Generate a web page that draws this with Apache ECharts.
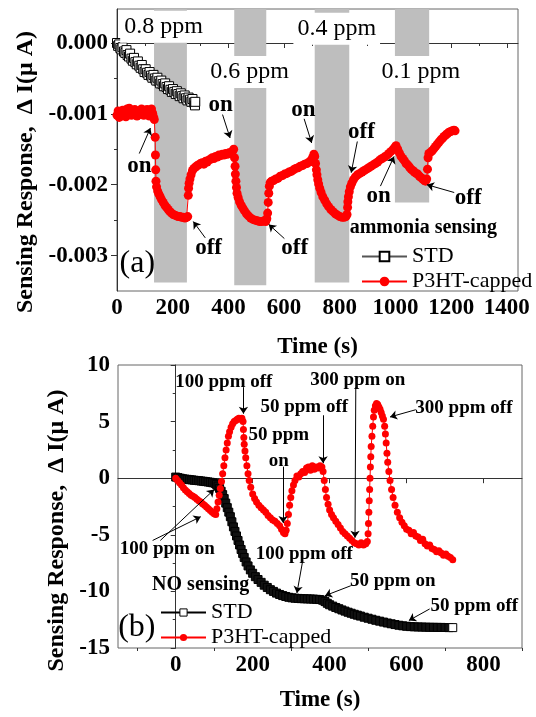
<!DOCTYPE html>
<html>
<head>
<meta charset="utf-8">
<script src="https://cdn.jsdelivr.net/npm/echarts@6/dist/echarts.min.js"></script>
<style>
  html, body { margin: 0; padding: 0; background: #fff; }
  #chart { width: 536px; height: 717px; }
</style>
</head>
<body>
<div id="chart"></div>
<script>
// ---------- panel (a): ammonia sensing ----------
var stdA = [[0,0],[4,-0.00004],[8,-0.00002],[12,-0.00007],[16,-0.00009],[20,-0.00006],[25,-0.00012],[30,-0.00014],
  [34,-0.0001],[38,-0.00017],[43,-0.00019],[47,-0.00015],[52,-0.00022],[57,-0.00025],[61,-0.00021],[66,-0.00027],
  [71,-0.0003],[75,-0.00026],[80,-0.00032],[85,-0.00035],[89,-0.00031],[94,-0.00037],[99,-0.00041],[103,-0.00037],
  [108,-0.00042],[113,-0.00045],[117,-0.00041],[122,-0.00046],[127,-0.00049],[131,-0.00045],[136,-0.0005],[141,-0.00053],
  [145,-0.00049],[150,-0.00054],[155,-0.00057],[159,-0.00053],[164,-0.00058],[169,-0.00061],[173,-0.00057],[178,-0.00062],
  [183,-0.00065],[187,-0.00061],[192,-0.00066],[197,-0.00069],[201,-0.00065],[206,-0.00069],[211,-0.00072],[215,-0.00068],
  [220,-0.00072],[225,-0.00075],[229,-0.00071],[234,-0.00075],[239,-0.00078],[243,-0.00074],[248,-0.00078],[253,-0.00081],
  [257,-0.00077],[262,-0.0008],[267,-0.00083],[271,-0.00079],[276,-0.00084],[280,-0.00088],[281,-0.00083]];

var p3htA = [[0,-0.00102],[4,-0.00096],[8,-0.00105],[12,-0.00098],[16,-0.00103],[20,-0.00095],[24,-0.00101],[28,-0.00097],
  [32,-0.00104],[36,-0.00093],[40,-0.00099],[44,-0.00092],[48,-0.00097],[52,-0.00102],[56,-0.00095],[60,-0.001],
  [64,-0.00094],[68,-0.00098],[72,-0.00103],[76,-0.00096],[80,-0.00101],[84,-0.00097],[88,-0.00093],[92,-0.00099],
  [96,-0.00102],[100,-0.00095],[104,-0.001],[108,-0.00094],[112,-0.00098],[116,-0.00103],[120,-0.00097],[124,-0.00093],
  [128,-0.00099],[131,-0.00104],[134,-0.00108],
  [137,-0.00133],[138,-0.00158],[139,-0.00179],[140,-0.00195],[142,-0.00203],[146,-0.00209],[150,-0.00213],[155,-0.00217],
  [160,-0.00221],[166,-0.00225],[172,-0.00229],[178,-0.00232],[184,-0.00235],[190,-0.00238],[196,-0.0024],[202,-0.00242],
  [208,-0.00243],[214,-0.00244],[220,-0.00245],[226,-0.00245],[232,-0.00246],[238,-0.00246],[244,-0.00247],[250,-0.00246],
  [254,-0.00245],
  [256,-0.00215],[257,-0.00205],[259,-0.00198],[262,-0.00192],[266,-0.00186],[271,-0.0018],[276,-0.00177],[282,-0.00175],
  [288,-0.00173],[294,-0.00172],[300,-0.0017],[306,-0.00169],[312,-0.00171],[318,-0.00167],[324,-0.00168],[330,-0.00165],
  [336,-0.00164],[342,-0.00162],[348,-0.00163],[354,-0.0016],[360,-0.00161],[366,-0.00158],[372,-0.00159],[378,-0.00157],
  [384,-0.00158],[390,-0.00156],[396,-0.00157],[402,-0.00155],[408,-0.00156],[414,-0.00153],[419,-0.0015],
  [422,-0.00162],[424,-0.00174],[425,-0.00185],[427,-0.00195],[429,-0.00204],[431,-0.00212],[435,-0.00218],[440,-0.00224],
  [446,-0.00229],[452,-0.00233],[458,-0.00237],[465,-0.00241],[472,-0.00244],[480,-0.00247],[488,-0.00249],[496,-0.0025],
  [504,-0.00251],[512,-0.00252],[520,-0.00252],[528,-0.00251],[534,-0.00252],[538,-0.00248],
  [541,-0.0024],[543,-0.00225],[545,-0.00212],[547,-0.00202],[550,-0.00197],[555,-0.00195],[562,-0.00194],[570,-0.00192],
  [578,-0.00191],[586,-0.00188],[594,-0.00187],[602,-0.00185],[610,-0.00184],[618,-0.00182],[626,-0.00181],[634,-0.00179],
  [642,-0.00177],[650,-0.00176],[658,-0.00174],[666,-0.00173],[674,-0.00171],[682,-0.0017],[690,-0.00168],[696,-0.00166],
  [702,-0.00162],[707,-0.00157],[710,-0.0016],
  [713,-0.0017],[716,-0.00179],[718,-0.00186],[721,-0.00193],[724,-0.00199],[728,-0.00205],[733,-0.00211],[739,-0.00217],
  [746,-0.00222],[753,-0.00227],[760,-0.00231],[768,-0.00235],[776,-0.00238],[784,-0.00241],[792,-0.00243],[800,-0.00245],
  [808,-0.00246],[816,-0.00246],[822,-0.00245],[826,-0.00242],
  [828,-0.00232],[829,-0.00224],[831,-0.00217],[834,-0.0021],[838,-0.00203],[843,-0.00198],[849,-0.00193],[856,-0.00189],
  [864,-0.00186],[872,-0.00184],[880,-0.00182],[888,-0.0018],[896,-0.00178],[904,-0.00176],[912,-0.00174],[920,-0.00172],
  [928,-0.0017],[936,-0.00168],[944,-0.00165],[952,-0.00163],[960,-0.00161],[968,-0.00159],[976,-0.00156],[984,-0.00153],
  [992,-0.0015],[998,-0.00147],[1002,-0.00145],
  [1008,-0.0015],[1014,-0.00155],[1020,-0.0016],[1026,-0.00163],[1032,-0.00166],[1038,-0.0017],[1044,-0.00172],[1050,-0.00175],
  [1056,-0.00178],[1062,-0.0018],[1068,-0.00182],[1074,-0.00184],[1080,-0.00185],[1086,-0.00188],[1092,-0.0019],[1098,-0.00192],
  [1104,-0.00194],[1108,-0.00195],[1112,-0.00192],
  [1115,-0.00178],[1117,-0.00162],[1120,-0.00156],[1126,-0.00154],[1132,-0.00152],[1138,-0.00149],[1144,-0.00146],[1150,-0.00143],
  [1156,-0.0014],[1162,-0.00137],[1168,-0.00135],[1174,-0.00132],[1180,-0.0013],[1186,-0.00128],[1192,-0.00126],[1198,-0.00125],
  [1204,-0.00124],[1210,-0.00123],[1214,-0.00124]];

// gas-on windows: [start, end, bottom]
var barsA = [[133,251,-0.00338],[421,536,-0.00342],[710,834,-0.00338],[998,1121,-0.00225]];
var ppmA = [[167,0.00023,'0.8 ppm'],[476,-0.00041,'0.6 ppm'],[789,0.0002,'0.4 ppm'],[1091,-0.00041,'0.1 ppm']];
var notesA = [[80,-0.00174,'on'],[329,-0.00289,'off'],[372,-0.00087,'on'],[638,-0.00289,'off'],
  [669,-0.00094,'on'],[878,-0.00125,'off'],[940,-0.00216,'on'],[1261,-0.00219,'off']];
var arrowsA = [[80,-0.00156,120,-0.0012],[317,-0.00275,274,-0.00252],[379,-0.00101,406,-0.00134],
  [601,-0.00276,545,-0.00256],[672,-0.00107,699,-0.00141],[863,-0.00139,841,-0.00183],
  [946,-0.00202,995,-0.0016],[1211,-0.00211,1113,-0.002]];
var xLabA = [0,200,400,600,800,1000,1200,1400];
var xMinorA = [100,300,500,700,900,1100,1300];
var yLabA = [0,-0.001,-0.002,-0.003];
var yMinorA = [-0.0005,-0.0015,-0.0025];

// ---------- panel (b): NO sensing ----------
var stdB = [[0,0.1],[6,0.05],[12,0],[18,-0.05],[24,-0.08],[30,-0.1],[36,-0.13],[42,-0.15],[48,-0.18],[54,-0.2],
  [60,-0.22],[66,-0.25],[72,-0.27],[78,-0.3],[84,-0.33],[90,-0.36],[96,-0.4],[102,-0.45],[106,-0.55],[110,-0.7],
  [114,-0.9],[118,-1.15],[122,-1.45],[126,-1.8],[130,-2.2],[134,-2.6],[138,-3],[142,-3.4],[146,-3.85],[150,-4.3],
  [154,-4.7],[158,-5.1],[162,-5.5],[166,-5.9],[170,-6.3],[174,-6.65],[178,-7],[183,-7.4],[188,-7.75],[194,-8.1],
  [200,-8.4],[207,-8.7],[214,-8.95],[222,-9.2],[230,-9.45],[238,-9.65],[246,-9.85],[254,-10],[262,-10.15],[270,-10.27],
  [278,-10.37],[286,-10.45],[294,-10.52],[302,-10.57],[310,-10.6],[318,-10.62],[326,-10.64],[334,-10.65],[342,-10.66],
  [350,-10.67],[358,-10.68],[366,-10.7],[374,-10.72],[382,-10.78],[388,-10.9],[394,-11.05],[400,-11.18],[408,-11.3],
  [416,-11.42],[424,-11.53],[432,-11.64],[440,-11.74],[448,-11.84],[456,-11.93],[464,-12.02],[472,-12.1],[480,-12.18],
  [490,-12.28],[500,-12.37],[510,-12.46],[520,-12.55],[530,-12.63],[540,-12.71],[550,-12.79],[560,-12.86],[570,-12.93],
  [580,-12.99],[590,-13.04],[600,-13.08],[610,-13.11],[620,-13.13],[630,-13.14],[640,-13.15],[650,-13.16],[660,-13.17],
  [670,-13.17],[680,-13.18],[690,-13.18],[700,-13.19],[710,-13.2],[720,-13.2]];

var p3htB = [[0,0],[5,-0.2],[10,-0.4],[15,-0.6],[20,-0.85],[25,-1.05],[30,-1.2],[35,-1.35],[40,-1.5],[45,-1.6],
  [50,-1.7],[55,-1.85],[60,-2],[65,-2.1],[70,-2.25],[75,-2.4],[80,-2.55],[85,-2.7],[90,-2.85],[95,-3],[100,-3.15],
  [104,-3.2],[107,-2.7],[110,-2.1],[113,-1.5],[116,-0.9],[119,-0.3],[122,0.4],[125,1.1],[128,1.8],[131,2.5],[134,3.1],
  [137,3.7],[140,4.1],[144,4.5],[148,4.8],[152,5],[156,5.1],[160,5.2],[164,5.3],[168,5.2],[172,5.3],[175,5],
  [176,4.3],[177,3.6],[178,3],[180,2.4],[182,1.8],[185,1.1],[188,0.4],[191,-0.2],[195,-0.8],[200,-1.4],[205,-1.8],
  [210,-2.1],[216,-2.4],[222,-2.6],[228,-2.8],[234,-3],[240,-3.3],[246,-3.5],[252,-3.7],[258,-3.8],[264,-4],[270,-4.2],
  [275,-4.5],[280,-4.8],[284,-4.9],[287,-4.6],[290,-4],[293,-3.2],[296,-2.4],[299,-1.7],[302,-1.1],[306,-0.6],[310,-0.2],
  [315,0.2],[320,0.1],[325,0.4],[330,0.6],[335,0.5],[340,0.9],[345,1],[350,0.7],[355,1.1],[360,0.8],[365,1],[370,0.9],
  [375,1.1],[380,1],[383,0.6],[386,-0.2],[389,-1],[392,-1.7],[396,-2.3],[400,-2.8],[405,-3.2],[410,-3.5],[416,-3.8],
  [422,-4.1],[428,-4.4],[434,-4.7],[440,-4.9],[446,-5.1],[452,-5.3],[458,-5.5],[464,-5.7],[470,-5.8],[476,-5.9],
  [482,-5.7],[488,-5.9],[494,-5.8],[498,-5.6],[500,-4.9],[501,-4],[502,-3],[503,-2],[504,-1],[505,0],[506,1],[507,1.9],
  [508,2.8],[510,3.7],[512,4.6],[514,5.4],[516,6],[519,6.4],[522,6.6],[525,6.5],[528,6.3],[531,6.1],[534,5.8],[537,5.5],
  [540,5.2],[543,4.6],[545,3.9],[547,3.1],[549,2.2],[551,1.4],[554,0.6],[557,-0.2],[561,-1],[565,-1.7],[570,-2.4],
  [576,-3],[582,-3.5],[588,-3.9],[594,-4.2],[600,-4.5],[606,-4.6],[612,-4.9],[618,-4.8],[624,-5.1],[630,-5.2],[636,-5.5],
  [642,-5.4],[648,-5.8],[654,-6],[660,-5.9],[666,-6.2],[672,-6.3],[678,-6.5],[684,-6.4],[690,-6.6],[696,-6.8],[702,-6.7],
  [708,-6.9],[714,-7],[720,-7.2]];

var notesB = [[125,8.48,'100 ppm off'],[268,2.7,'50 ppm\non'],[334,6.29,'50 ppm off'],[473,8.63,'300 ppm on'],
  [749,6.23,'300 ppm off'],[-22,-6.29,'100 ppm on'],[334,-6.73,'100 ppm off'],[564,-9.06,'50 ppm on'],
  [776,-11.26,'50 ppm off']];
var arrowsB = [[176,8.04,176,5.7],[279,1.02,279,-3.95],[383,5.56,383,1.32],[468,8.04,466,-5.26],
  [624,6.05,557,5.41],[-40,-5.5,100,-1.0],[-60,-5.5,65,-3.4],[330,-7.3,315,-10.15],[455,-9.5,388,-10.38],
  [660,-11.55,606,-12.57]];
var xLabB = [0,200,400,600,800];
var xMinorB = [-100,100,300,500,700,900];

var SERIF = '"Liberation Serif", "Times New Roman", serif';
var yName = 'Sensing Response,  \u0394 I(\u03bc A)';

function mainX(grid, min, max, labels, gap) {
    return {
        type: 'value', gridIndex: grid, min: min, max: max, position: 'bottom',
        name: 'Time (s)', nameLocation: 'middle', nameGap: gap,
        nameTextStyle: { fontFamily: SERIF, fontSize: 23, fontWeight: 'bold', color: '#000' },
        axisLine: { lineStyle: { color: '#333', width: 1 } },
        axisTick: { show: true, length: 5, customValues: labels, lineStyle: { color: '#333' } },
        axisLabel: { customValues: labels, margin: 6, fontFamily: SERIF, fontSize: 23, fontWeight: 'bold', color: '#000',
            formatter: function (v) { return String(v); } },
        splitLine: { show: false }
    };
}
function minorAxis(grid, min, max, ticks, pos) {
    return {
        type: 'value', gridIndex: grid, min: min, max: max, position: pos,
        axisLine: { show: false },
        axisTick: { show: true, length: 3, customValues: ticks, lineStyle: { color: '#333' } },
        axisLabel: { show: false },
        splitLine: { show: false }
    };
}
function noteSeries(items, xi, yi, label) {
    return {
        type: 'scatter', xAxisIndex: xi, yAxisIndex: yi, symbolSize: 1, silent: true, clip: false, z: 6,
        itemStyle: { color: 'transparent' },
        data: items.map(function (n) { return { value: [n[0], n[1]], name: n[2] }; }),
        label: Object.assign({ show: true, position: 'inside', formatter: '{b}', color: '#000', fontFamily: SERIF,
            fontWeight: 'normal', textBorderWidth: 0, opacity: 1 }, label)
    };
}
function arrowSeries(items, xi, yi) {
    return {
        type: 'lines', coordinateSystem: 'cartesian2d', xAxisIndex: xi, yAxisIndex: yi,
        symbol: ['none', 'arrow'], symbolSize: 7, silent: true, clip: false, z: 6,
        lineStyle: { color: '#000', width: 1, opacity: 1 },
        data: items.map(function (a) { return { coords: [[a[0], a[1]], [a[2], a[3]]] }; })
    };
}

var stdBData = stdB.map(function (p, i) {
    if (i === stdB.length - 1) return { value: p, itemStyle: { color: '#fff', borderColor: '#000', borderWidth: 1 } };
    return p;
});

var myChart = echarts.init(document.getElementById('chart'), null, { renderer: 'canvas' });
var option = {
    animation: false,
    backgroundColor: '#fff',
    grid: [
        { left: 117, top: 9, width: 401, height: 282, show: true, borderColor: '#666', borderWidth: 1 },
        { left: 118, top: 365, width: 404, height: 283, show: true, borderColor: '#666', borderWidth: 1 }
    ],
    xAxis: [
        mainX(0, 0, 1440, xLabA, 45),
        minorAxis(0, 0, 1440, xMinorA, 'bottom'),
        mainX(1, -150, 900, xLabB, 41),
        minorAxis(1, -150, 900, xMinorB, 'bottom')
    ],
    yAxis: [
        {
            type: 'value', gridIndex: 0, min: -0.0035, max: 0.00048, position: 'left',
            name: yName, nameLocation: 'middle', nameGap: 78,
            nameTextStyle: { fontFamily: SERIF, fontSize: 24, fontWeight: 'bold', color: '#000', padding: [0, 44, 0, 0] },
            axisLine: { show: true, lineStyle: { color: '#333' } },
            axisTick: { show: true, length: 6, customValues: yLabA, lineStyle: { color: '#333' } },
            axisLabel: { customValues: yLabA, margin: 9, fontFamily: SERIF, fontSize: 23, fontWeight: 'bold', color: '#000',
                formatter: function (v) { return v.toFixed(3); } },
            splitLine: { show: false }
        },
        minorAxis(0, -0.0035, 0.00048, yMinorA, 'left'),
        {
            type: 'value', gridIndex: 1, min: -15, max: 10, interval: 5, position: 'left',
            name: yName, nameLocation: 'middle', nameGap: 47,
            nameTextStyle: { fontFamily: SERIF, fontSize: 24, fontWeight: 'bold', color: '#000', padding: [0, 48, 0, 0] },
            axisLine: { show: true, lineStyle: { color: '#333' } },
            axisTick: { show: true, length: 5, lineStyle: { color: '#333' } },
            minorTick: { show: true, splitNumber: 2, length: 3, lineStyle: { color: '#333' } },
            axisLabel: { margin: 8, fontFamily: SERIF, fontSize: 23, fontWeight: 'bold', color: '#000' },
            splitLine: { show: false }
        }
    ],
    legend: [
        {
            data: ['STD', 'P3HT-capped'], orient: 'vertical', left: 356, top: 239,
            itemWidth: 45, itemHeight: 12, itemGap: 0, selectedMode: false,
            textStyle: { fontFamily: SERIF, fontSize: 22, color: '#000', lineHeight: 25 }
        },
        {
            data: [{ name: 'STD (b)', itemStyle: { color: '#fff', borderColor: '#000', borderWidth: 1 } }, 'P3HT-capped (b)'],
            formatter: function (n) { return n.replace(' (b)', ''); },
            orient: 'vertical', left: 155, top: 595,
            itemWidth: 45, itemHeight: 9, itemGap: 0, selectedMode: false,
            textStyle: { fontFamily: SERIF, fontSize: 22, color: '#000', lineHeight: 25 }
        }
    ],
    series: [
        {
            name: 'bars', type: 'line', xAxisIndex: 0, yAxisIndex: 0, data: [], z: 1, silent: true,
            markArea: {
                silent: true,
                itemStyle: { color: '#bebebe', opacity: 1 },
                data: barsA.map(function (b) { return [{ xAxis: b[0], yAxis: b[2] }, { xAxis: b[1], yAxis: 0.00048 }]; })
            }
        },
        {
            name: 'STD', type: 'line', xAxisIndex: 0, yAxisIndex: 0, data: stdA, z: 3,
            symbol: 'rect', symbolSize: 9, showAllSymbol: true,
            itemStyle: { color: '#fff', borderColor: '#000', borderWidth: 1 },
            lineStyle: { color: '#555', width: 1 }
        },
        {
            name: 'P3HT-capped', type: 'line', xAxisIndex: 0, yAxisIndex: 0, data: p3htA, z: 4,
            symbol: 'circle', symbolSize: 9, showAllSymbol: true,
            itemStyle: { color: '#ff0000' },
            lineStyle: { color: '#ff0000', width: 1 }
        },
        {
            name: 'STD (b)', type: 'line', xAxisIndex: 2, yAxisIndex: 2, data: stdBData, z: 3,
            symbol: 'rect', symbolSize: 8, showAllSymbol: true,
            itemStyle: { color: '#111', borderColor: '#000', borderWidth: 1 },
            lineStyle: { color: '#000', width: 4 }
        },
        {
            name: 'P3HT-capped (b)', type: 'line', xAxisIndex: 2, yAxisIndex: 2, data: p3htB, z: 4,
            symbol: 'circle', symbolSize: 7, showAllSymbol: true,
            itemStyle: { color: '#ff0000' },
            lineStyle: { color: '#ff0000', width: 1 }
        },
        noteSeries(ppmA, 0, 0, { fontSize: 24, backgroundColor: '#fff', padding: [1, 4], lineHeight: 30 }),
        noteSeries(notesA, 0, 0, { fontSize: 23, fontWeight: 'bold' }),
        noteSeries([[1100, -0.00261, 'ammonia sensing']], 0, 0, { fontSize: 20, fontWeight: 'bold' }),
        noteSeries([[73, -0.00312, '(a)']], 0, 0, { fontSize: 32 }),
        arrowSeries(arrowsA, 0, 0),
        noteSeries(notesB, 2, 2, { fontSize: 19, fontWeight: 'bold', lineHeight: 26, align: 'center' }),
        noteSeries([[65, -9.43, 'NO sensing']], 2, 2, { fontSize: 20, fontWeight: 'bold' }),
        noteSeries([[-101, -13.2, '(b)']], 2, 2, { fontSize: 32 }),
        arrowSeries(arrowsB, 2, 2)
    ]
};
myChart.setOption(option);
</script>
</body>
</html>
